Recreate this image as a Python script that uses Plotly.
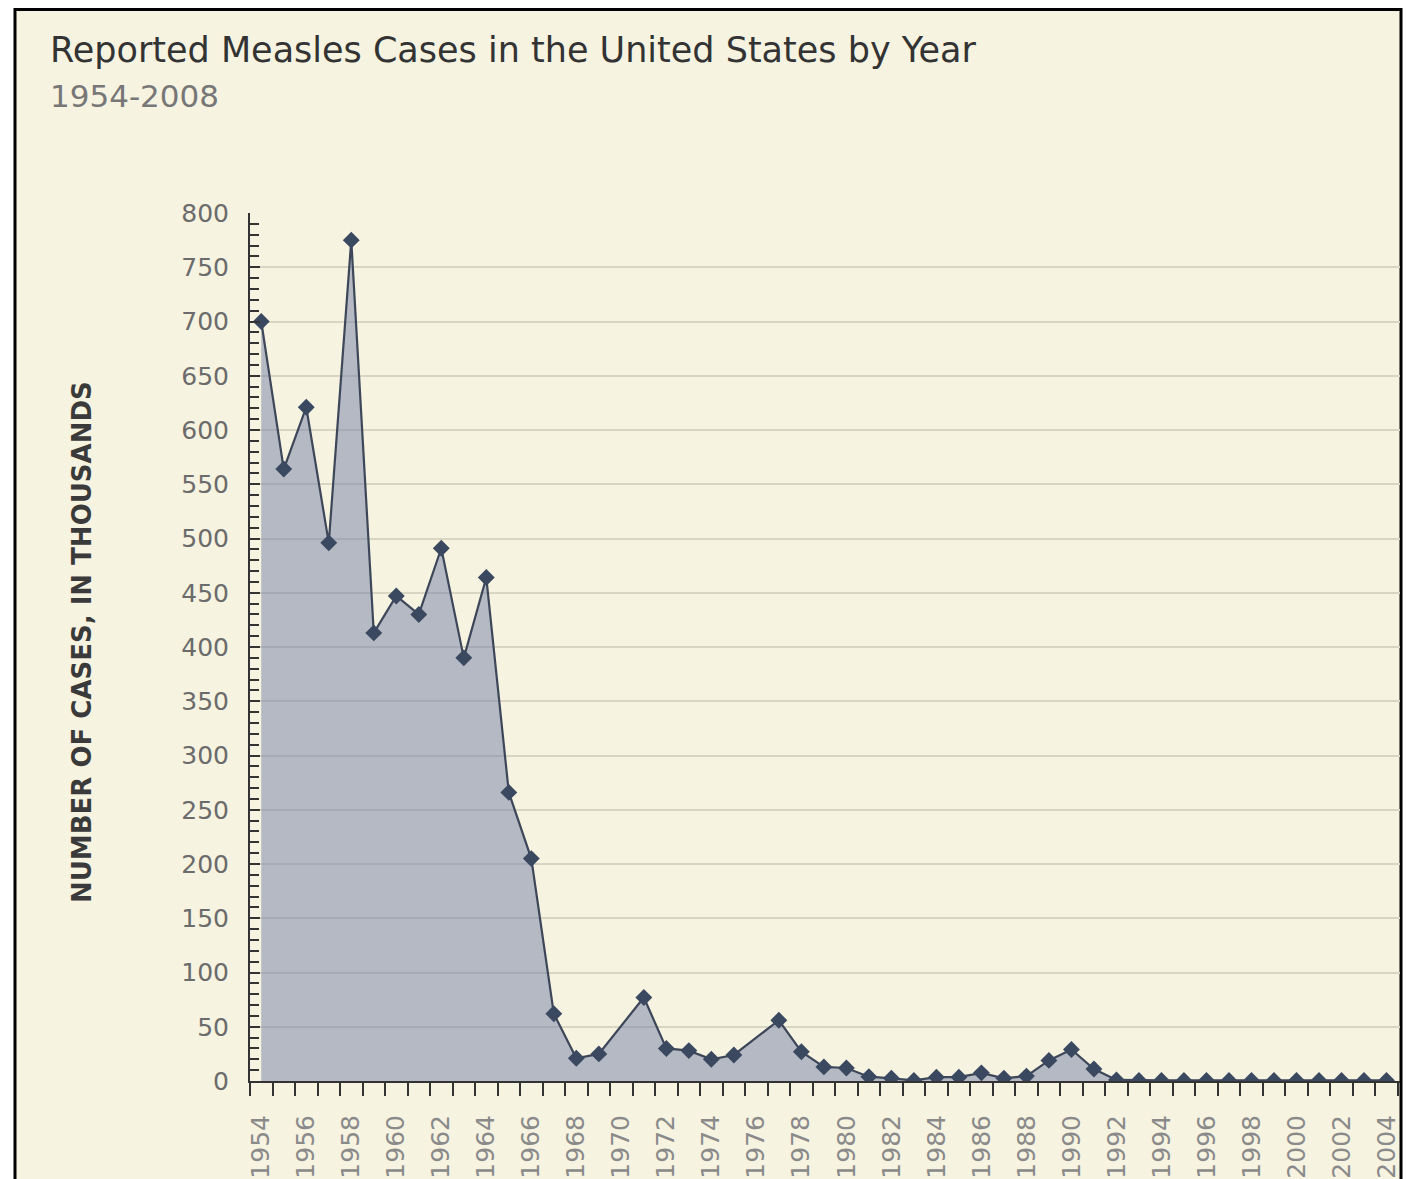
import plotly.graph_objects as go

years = list(range(1954, 2005))
cases_thousands = [
    700, 564, 621, 496, 775, 413, 447, 430, 491, 390, 464, 266, 205, 62, 21, 25,
    None,
    77, 30, 28, 20, 24,
    None,
    56, 27, 13, 12, 4, 2.5, 0.5, 3.5, 3.5, 7.5, 2.5, 4.5, 19, 29, 11, 1,
    0.5, 0.5, 0.5, 0.5, 0.5, 0.5, 0.5, 0.5, 0.5, 0.5, 0.5, 0.5,
]
label_years = [y for y in years if y % 2 == 0]
label_text = [str(y) for y in label_years]
y_ticks = list(range(0, 801, 50))

title = "Reported Measles Cases in the United States by Year"
subtitle = "1954-2008"
y_title = "NUMBER OF CASES, IN THOUSANDS"

FONT = "DejaVu Sans"
OFF = 8  # page body margin
W, H = 1414 - OFF, 1179 - OFF
L, R, T, B = 250 - OFF, W - (1400 - OFF), 213 - OFF, H - (1081 - OFF)
pw, ph = W - L - R, H - T - B

def px(x):
    return (x - OFF - L) / pw

def py(y):
    return (H - B - (y - OFF)) / ph

fig = go.Figure()
fig.add_trace(go.Scatter(
    x=years, y=cases_thousands,
    mode="lines+markers",
    connectgaps=True,
    fill="tozeroy",
    fillcolor="rgba(113,128,165,0.5)",
    line=dict(color="#3d4759", width=2.2),
    marker=dict(symbol="diamond", size=13, color="#3a4860"),
    hoverinfo="x+y",
    showlegend=False,
))

fig.update_layout(
    width=W, height=H,
    margin=dict(l=L, r=R, t=T, b=B, autoexpand=False),
    paper_bgcolor="white",
    plot_bgcolor="rgba(0,0,0,0)",
    font=dict(family=FONT, color="#555"),
    title=dict(
        text=title, x=(50 - OFF) / W, y=1 - (50 - OFF) / H,
        xref="container", yref="container",
        xanchor="left", yanchor="middle",
        font=dict(family=FONT, size=35, color="#333333"),
    ),
    shapes=[dict(
        type="rect", xref="paper", yref="paper",
        x0=px(15), x1=px(1401), y0=py(1200), y1=py(9.5),
        line=dict(color="black", width=3),
        fillcolor="#f6f3e1", layer="below",
    )],
    annotations=[
        dict(text=subtitle, xref="paper", yref="paper", x=px(48), y=py(96),
             xanchor="left", yanchor="middle", showarrow=False,
             font=dict(family=FONT, size=31, color="#777777")),
        dict(text=y_title, xref="paper", yref="paper", x=px(82), y=py(642),
             xanchor="center", yanchor="middle", textangle=-90, showarrow=False,
             font=dict(family=FONT, size=26, color="#3a3a3a", weight="bold")),
    ],
)

fig.update_xaxes(
    range=[1953.5, 2004.6],
    automargin=False,
    tickmode="array", tickvals=label_years, ticktext=label_text,
    tickangle=-90, ticks="",
    tickfont=dict(family=FONT, size=25, color="#8a8a8a"),
    ticklabelstandoff=22,
    showgrid=False, zeroline=False,
    showline=True, linecolor="#333", linewidth=2,
    minor=dict(tickmode="linear", tick0=1953.5, dtick=1, ticks="outside",
               ticklen=13, tickwidth=2, tickcolor="#333", showgrid=False),
)
fig.update_yaxes(
    range=[0, 800],
    automargin=False,
    tickmode="array", tickvals=y_ticks,
    ticks="inside", ticklen=10, tickwidth=2, tickcolor="#333",
    tickfont=dict(family=FONT, size=25, color="#6b6b6b"),
    ticklabelstandoff=14,
    showgrid=True, gridcolor="#d8d5c3", gridwidth=1.5,
    zeroline=False,
    showline=True, linecolor="#333", linewidth=2,
    minor=dict(tickmode="linear", tick0=0, dtick=10, ticks="inside",
               ticklen=9, tickwidth=2, tickcolor="#333", showgrid=False),
)

fig.write_html("out.html")
